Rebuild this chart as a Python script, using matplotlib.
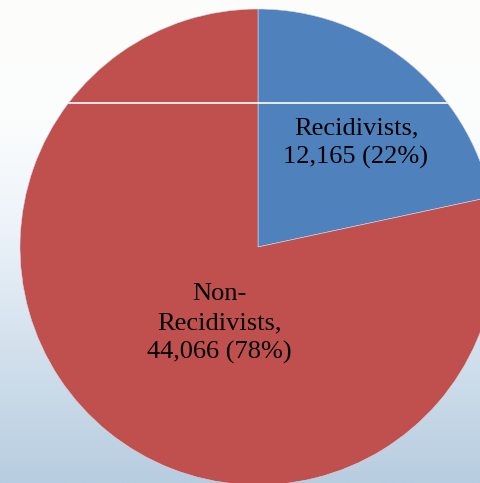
import numpy as np
import matplotlib
matplotlib.use("Agg")
import matplotlib.pyplot as plt
from matplotlib.colors import LinearSegmentedColormap

categories = ["Recidivists", "Non-\nRecidivists"]
values = [12165, 44066]
percents = [22, 78]
colors = ["#4F81BD", "#C0504D"]

W, H = 481, 483
fig = plt.figure(figsize=(W / 100, H / 100), dpi=100)
ax = fig.add_axes([0, 0, 1, 1])

# background gradient (white top -> light blue bottom)
cmap = LinearSegmentedColormap.from_list(
    "bg", [(0.0, "#fdfefb"), (0.25, "#fbfdfd"), (0.45, "#eef4fa"), (1.0, "#b7cde0")])
grad = np.linspace(0, 1, 256).reshape(-1, 1)
ax.imshow(grad, extent=(0, W, 0, H), origin="upper", aspect="auto", cmap=cmap, zorder=0)

cx, cy, R = 258, H - 247, 238
wedges, _ = ax.pie(values, colors=colors, startangle=90, counterclock=False,
                   center=(cx, cy), radius=R, frame=True,
                   wedgeprops=dict(edgecolor="#d8d8e8", linewidth=0.4))
ax.set_xlim(0, W)
ax.set_ylim(0, H)
ax.set_aspect("equal")
ax.axis("off")
for w in wedges:
    w.set_zorder(2)

# thin white chord artifact across the pie
yline = H - 103
ln, = ax.plot([0, W], [yline, yline], color="white", lw=1.2, zorder=3)
clip = plt.Circle((cx, cy), R, transform=ax.transData)
ln.set_clip_path(clip)

# labels
label_pos = [(0.60, 46.7), (0.36, 243.5)]
for cat, v, p, (fr, ang) in zip(categories, values, percents, label_pos):
    a = np.deg2rad(ang)
    x = cx + fr * R * np.cos(a)
    y = cy + fr * R * np.sin(a)
    ax.text(x, y, f"{cat},\n{v:,} ({p}%)", ha="center", va="center",
            fontsize=19, family="Liberation Serif", color="black",
            linespacing=1.4, zorder=4)

fig.savefig("out.png", dpi=100)
